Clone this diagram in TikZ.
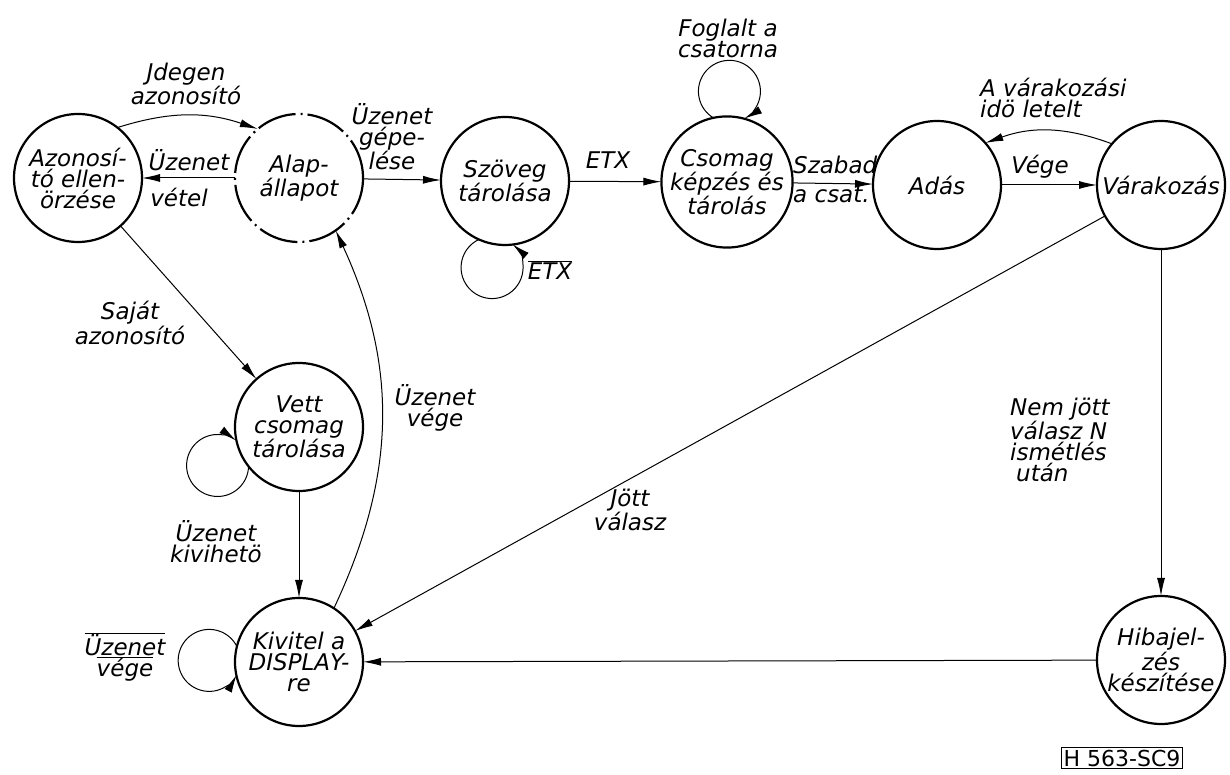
\documentclass[tikz,border=0pt]{standalone}
\usepackage{fontspec}
\setmainfont{DejaVu Sans}
\usetikzlibrary{arrows.meta}
\newcommand{\statefont}{\itshape\fontsize{23}{21}\selectfont}
\tikzstyle{state} = [circle, draw, line width=2.2pt, minimum size=128pt, inner sep=0pt, outer sep=0pt, align=center, font=\statefont]
\tikzstyle{arrow} = [line width=1pt, -{Latex[length=18pt,width=8pt]}]
\tikzstyle{lbl} = [align=center, inner sep=0pt, font=\statefont]

\begin{document}
\begin{tikzpicture}[x=1pt,y=1pt]
\useasboundingbox (0,0) rectangle (1230,775);

%States
\node[state] (azon) at (78,597) {Azonosí-\\tó ellen-\\örzése};
\node[state, dash pattern=on 40pt off 5pt on 2pt off 5pt] (alap) at (299,597) {Alap-\\állapot};
\node[state] (szoveg) at (505,594) {Szöveg\\tárolása};
\node[state] (csomag) at (727,593) {Csomag\\képzés és\\tárolás};
\node[state] (adas) at (937,590) {Adás};
\node[state] (varak) at (1161,590) {Várakozás};
\node[state] (vett) at (299,348) {Vett\\csomag\\tárolása};
\node[state] (kivitel) at (299,113) {Kivitel a\\DISPLAY-\\re};
\node[state] (hiba) at (1161,115) {Hibajel-\\zés\\készítése};

%Straight Lines
\draw[arrow] (alap) -- (azon);
\draw[arrow] (alap) -- (szoveg);
\draw[arrow] (szoveg) -- (csomag);
\draw[arrow] (csomag) -- (adas);
\draw[arrow] (adas) -- (varak);
\draw[arrow] (varak) -- (kivitel);
\draw[arrow] (varak) -- (hiba);
\draw[arrow] (hiba) -- (kivitel);
\draw[arrow] (azon) -- (vett);
\draw[arrow] (vett) -- (kivitel);

%Curves
\draw[arrow] (azon.52) to[bend left=18] (alap.130);
\draw[arrow] (varak.140) to[bend right=20] (adas.41);
\draw[arrow] (kivitel.57) to[bend right=25] (alap.305);

%Loops
\draw[arrow] (szoveg.246.9) arc[start angle=115, end angle=409.2, radius=31pt];
\draw[arrow] (csomag.102.7) arc[start angle=238.8, end angle=-61.4, radius=31pt];
\draw[arrow] (vett.218.6) arc[start angle=-1.7, end angle=-306.9, radius=31pt];
\draw[arrow] (kivitel.166.5) arc[start angle=26.6, end angle=332.2, radius=31pt];

% Text Node
\node[lbl] (l-jdegen) at (186,691) {Jdegen\\azonosító};
\node[lbl] (l-uzenet) at (189,615) {Üzenet};
\node[lbl] (l-vetel) at (179,578) {vétel};
\node[lbl] (l-gepel) at (392,638) {Üzenet\\gépe-\\lése};
\node[lbl] (l-etx) at (608,615) {ETX};
\node[lbl] (l-netx) at (550,505) {$\overline{\mbox{ETX}}$};
\node[lbl] (l-foglalt) at (728,737) {Foglalt a\\csatorna};
\node[lbl, anchor=west] (l-szabad) at (793,610) {Szabad};
\node[lbl, anchor=west] (l-csat) at (793,580) {a csat.};
\node[lbl] (l-vege) at (1040,608) {Vége};
\node[lbl, align=left, anchor=west] (l-varido) at (980,677) {A várakozási\\idö letelt};
\node[lbl] (l-jott) at (630,265) {Jött\\válasz};
\node[lbl, align=left, anchor=west] (l-nemjott) at (1010,335) {Nem jött\\válasz N\\ismétlés\\\hspace{6pt}után};
\node[lbl] (l-sajat) at (130,452) {Saját\\azonosító};
\node[lbl] (l-kivih) at (216,233) {Üzenet\\kivihetö};
\node[lbl] (l-uzvege) at (435,367) {Üzenet\\vége};
\node[lbl] (l-nuzvege) at (125,118) {$\overline{\mbox{Üzenet}}$\\$\overline{\mbox{vége}}$};

% Drawing number
\node[draw, line width=1pt, inner sep=2pt, font=\fontsize{22}{22}\selectfont] (szam) at (1122,17) {H 563-SC9};

\end{tikzpicture}
\end{document}
